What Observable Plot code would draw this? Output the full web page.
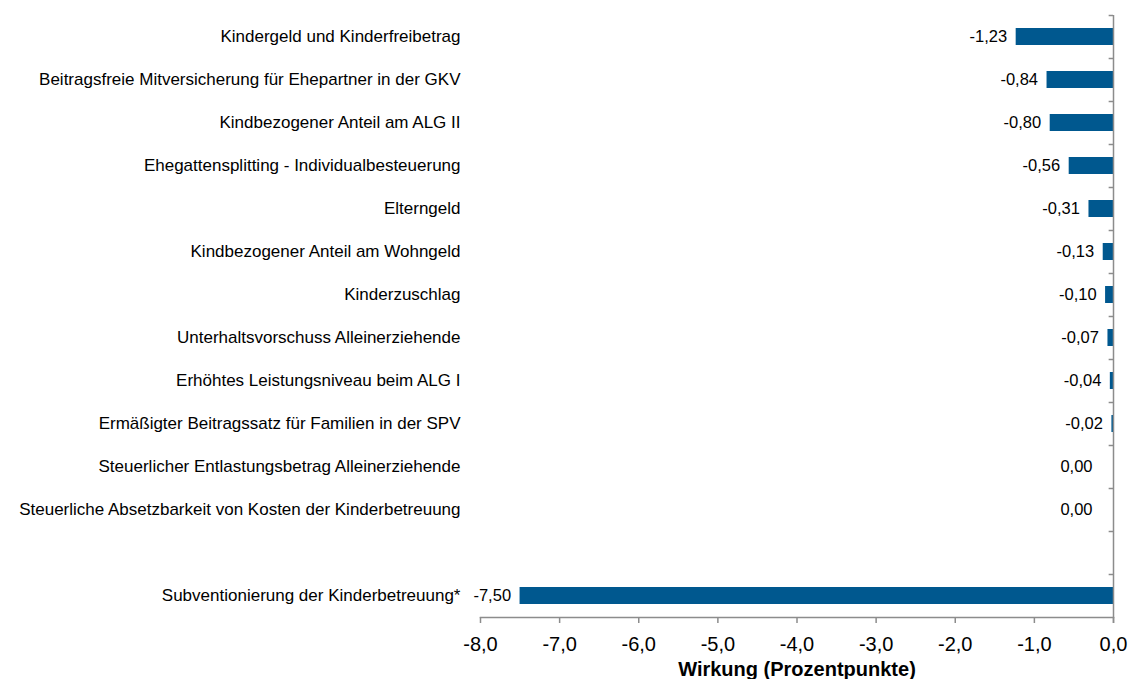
<!DOCTYPE html>
<html>
<head>
<meta charset="utf-8">
<script src="https://cdn.jsdelivr.net/npm/d3@7"></script>
<script src="https://cdn.jsdelivr.net/npm/@observablehq/plot@0.6"></script>
<style>
  html, body { margin: 0; padding: 0; background: #fff; }
  #chart svg { display: block; }
  g[aria-label="x-axis label"] text { font-weight: bold; }
</style>
</head>
<body>
<div id="chart"></div>
<script>
const categories = [
  "Kindergeld und Kinderfreibetrag",
  "Beitragsfreie Mitversicherung für Ehepartner in der GKV",
  "Kindbezogener Anteil am ALG II",
  "Ehegattensplitting - Individualbesteuerung",
  "Elterngeld",
  "Kindbezogener Anteil am Wohngeld",
  "Kinderzuschlag",
  "Unterhaltsvorschuss Alleinerziehende",
  "Erhöhtes Leistungsniveau beim ALG I",
  "Ermäßigter Beitragssatz für Familien in der SPV",
  "Steuerlicher Entlastungsbetrag Alleinerziehende",
  "Steuerliche Absetzbarkeit von Kosten der Kinderbetreuung",
  " ",
  "Subventionierung der Kinderbetreuung*"
];
const values = [-1.23, -0.84, -0.80, -0.56, -0.31, -0.13, -0.10, -0.07, -0.04, -0.02, 0.00, 0.00, null, -7.50];
const xTicks = [-8, -7, -6, -5, -4, -3, -2, -1, 0];
const axisTitle = "Wirkung (Prozentpunkte)";

const data = categories.map((c, i) => ({category: c, value: values[i]})).filter(d => d.value !== null);
const fmt1 = v => v.toFixed(1).replace(".", ",");
const fmt2 = v => v.toFixed(2).replace(".", ",");
const barColor = "#00588f";
const axisColor = "#8c8c8c";

const chart = Plot.plot({
  width: 1132,
  height: 679,
  marginTop: 15,
  marginBottom: 62,
  marginLeft: 480,
  marginRight: 19,
  style: {fontFamily: "'Liberation Sans', Arial, sans-serif", color: "#000", background: "#fff"},
  x: {domain: [-8, 0]},
  y: {domain: categories, padding: 0},
  marks: [
    Plot.barX(data, {x: "value", y: "category", fill: barColor, insetTop: 13, insetBottom: 13}),
    Plot.text(data.filter(d => d.value !== 0), {x: "value", y: "category", text: d => fmt2(d.value), textAnchor: "end", dx: -9, fontSize: 16.5, fill: "#000"}),
    Plot.text(data.filter(d => d.value === 0), {x: "value", y: "category", text: d => fmt2(d.value), textAnchor: "end", dx: -21, fontSize: 16.5, fill: "#000"}),
    Plot.axisY({tickSize: 0, tickPadding: 20, fontSize: 17, label: null, tickFormat: d => d.trim()}),
    Plot.ruleY(categories, {y: d => d, x1: -0.055, x2: 0, dy: -21.5, stroke: axisColor, strokeWidth: 1.5}),
    Plot.frame({anchor: "bottom", stroke: axisColor, strokeWidth: 1.5}),
    Plot.ruleX([0], {stroke: axisColor, strokeWidth: 1.5, insetBottom: -6}),
    Plot.axisX({ticks: xTicks, tickFormat: fmt1, tickSize: 6, tickPadding: 13, fontSize: 20, stroke: axisColor, strokeWidth: 1.5,
      label: axisTitle, labelAnchor: "center", labelArrow: "none", labelOffset: 58})
  ]
});
document.getElementById("chart").appendChild(chart);
</script>
</body>
</html>
